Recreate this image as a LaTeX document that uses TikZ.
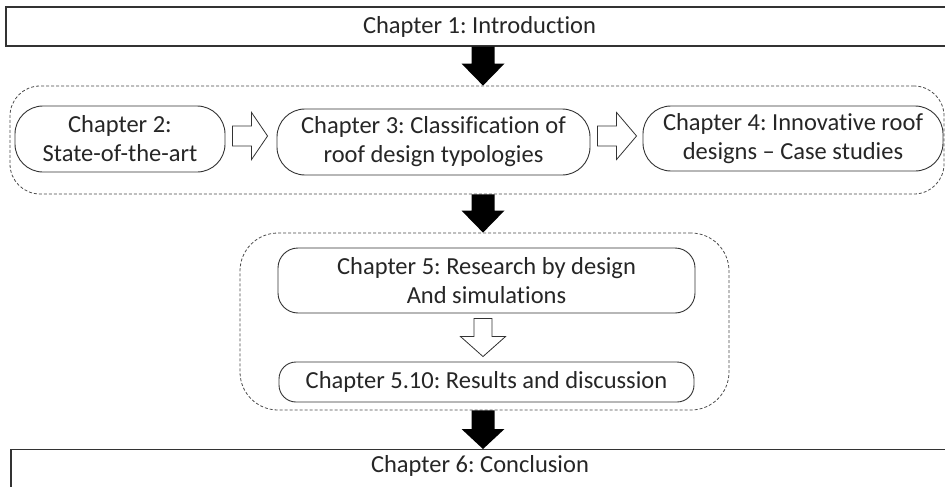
\documentclass[tikz,border=0pt]{standalone}
\usepackage{fontspec}
\setmainfont{Carlito}[Ligatures=NoCommon]
\usetikzlibrary{calc}
\frenchspacing
\newcommand{\blockdown}[6]{%
  \path[#1] let \p1=(#2), \p2=(#3) in
    (\x1-#4pt,\y1) -- (\x1+#4pt,\y1) -- (\x1+#4pt,\y2+#6pt) -- (\x1+#5pt,\y2+#6pt)
    -- (\x1,\y2) -- (\x1-#5pt,\y2+#6pt) -- (\x1-#4pt,\y2+#6pt) -- cycle;}
\newcommand{\blockright}[6]{%
  \path[#1] let \p1=(#2), \p2=(#3) in
    (\x1,\y1+#4pt) -- (\x2-#6pt,\y1+#4pt) -- (\x2-#6pt,\y1+#5pt) -- (\x2,\y1)
    -- (\x2-#6pt,\y1-#5pt) -- (\x2-#6pt,\y1-#4pt) -- (\x1,\y1-#4pt) -- cycle;}
\tikzset{
  every node/.style={inner sep=0pt, text=black!85, font=\fontsize{24.5}{29}\selectfont},
  plainbox/.style={draw=black!80, line width=1.3pt, rectangle},
  chapbox/.style={draw=black!80, line width=0.9pt, rounded corners=28pt, align=center},
  groupbox/.style={draw=black!70, line width=0.8pt, dash pattern=on 3pt off 2pt, rounded corners=30pt},
  solidarrow/.style={fill=black},
  hollowarrow/.style={draw=black!80, line width=0.8pt, fill=white},
}
\begin{document}
\begin{tikzpicture}[x=1pt,y=-1pt]
\useasboundingbox (0,0) rectangle (945,487);
\clip (0,0) rectangle (945,487);
\fill[white] (0,0) rectangle (945,487);
% axes
\coordinate (ax) at (483,0);
\coordinate (hax) at (0,136);
% top and bottom boxes
\node[plainbox, minimum width=947pt, minimum height=39pt] (intro) at (479.5,26.5) {Chapter 1: Introduction};
\node[plainbox, minimum width=938pt, minimum height=70pt, anchor=north] (concl) at (480,449) {};
\node (concltxt) at (480,466) {Chapter 6: Conclusion};
% group 1
\node[groupbox, minimum width=934pt, minimum height=108pt] (g1) at (477,140) {};
\node[chapbox, minimum width=210pt, minimum height=66pt] (c2) at (120,139) {Chapter 2:\\State-of-the-art};
\node[chapbox, minimum width=313pt, minimum height=66pt] (c3) at (433.5,142) {Chapter 3: Classification of\\roof design typologies};
\node[chapbox, minimum width=300pt, minimum height=65pt] (c4) at (793,138.5) {Chapter 4: Innovative roof\\designs -- Case studies};
% group 2
\node[groupbox, rounded corners=38pt, minimum width=489pt, minimum height=177pt] (g2) at (484.5,321.5) {};
\node[chapbox, rounded corners=20pt, minimum width=417pt, minimum height=65pt] (c5) at (486.5,280.5) {Chapter 5: Research by design\\And simulations};
\node[chapbox, rounded corners=17pt, minimum width=415pt, minimum height=40pt] (c510) at (486.5,382) {Chapter 5.10: Results and discussion};
% solid arrows
\blockdown{solidarrow}{intro.south -| ax}{g1.north -| ax}{11.5}{21.5}{22}
\blockdown{solidarrow}{g1.south -| ax}{g2.north -| ax}{11.5}{21.5}{22}
\blockdown{solidarrow}{g2.south -| ax}{concl.north -| ax}{11.5}{21.5}{20}
% hollow arrows
\blockright{hollowarrow}{[xshift=7pt]c2.east |- hax}{[xshift=-9pt]c3.west |- hax}{10}{23.5}{16}
\blockright{hollowarrow}{[xshift=7pt]c3.east |- hax}{[xshift=-6pt]c4.west |- hax}{10}{23.5}{20}
\blockdown{hollowarrow}{[yshift=-5pt]c5.south -| ax}{[yshift=5pt]c510.north -| ax}{9}{22.5}{20}
\end{tikzpicture}
\end{document}
